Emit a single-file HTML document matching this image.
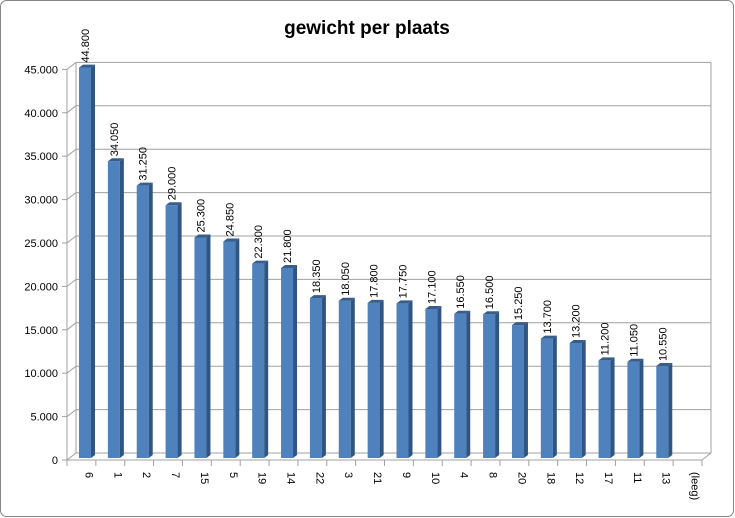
<!DOCTYPE html>
<html><head><meta charset="utf-8"><style>
body{margin:0;background:#fff;}
svg{display:block;font-family:"Liberation Sans",Arial,sans-serif;}
</style></head><body>
<svg id="chart" width="735" height="518" viewBox="0 0 735 518">
<rect x="0.5" y="0.5" width="733" height="516" rx="6" fill="#fff" stroke="#868686"/>
<text x="367" y="34" text-anchor="middle" font-size="19" font-weight="bold" fill="#000">gewicht per plaats</text>
<g id="grid"></g><g id="bars"></g><g id="labels"></g>
</svg>
<script>
const categories=["6","1","2","7","15","5","19","14","22","3","21","9","10","4","8","20","18","12","17","11","13","(leeg)"];
const values=[44800,34050,31250,29000,25300,24850,22300,21800,18350,18050,17800,17750,17100,16550,16500,15250,13700,13200,11200,11050,10550,null];
const valueLabels=["44.800","34.050","31.250","29.000","25.300","24.850","22.300","21.800","18.350","18.050","17.800","17.750","17.100","16.550","16.500","15.250","13.700","13.200","11.200","11.050","10.550",""];
const yTicks=[0,5000,10000,15000,20000,25000,30000,35000,40000,45000];
const yTickLabels=["0","5.000","10.000","15.000","20.000","25.000","30.000","35.000","40.000","45.000"];
const NS="http://www.w3.org/2000/svg";
const X0=67,X1=702,DX=9,DY=7,Y0=460,SC=43.4/5000;
const slot=(X1-X0)/categories.length;
const yFront=v=>Y0-v*SC;
const yBar=v=>458-v*SC*1.004;
function mk(t,a,p){const e=document.createElementNS(NS,t);for(const k in a)e.setAttribute(k,a[k]);p.appendChild(e);return e;}
const grid=document.getElementById('grid'),bars=document.getElementById('bars'),labs=document.getElementById('labels');
// walls
let e=mk('line',{x1:X0+DX,y1:yFront(45000)-DY,x2:X0+DX,y2:Y0-DY,stroke:'#a0a0a0'},grid);

e=mk('line',{x1:X1+DX,y1:yFront(45000)-DY,x2:X1+DX,y2:Y0-DY,stroke:'#a0a0a0'},grid);

e=mk('line',{x1:X0,y1:yFront(45000),x2:X0,y2:Y0,stroke:'#a0a0a0'},grid);

yTicks.forEach((v,i)=>{
  const y=yFront(v);
  const p=mk('polyline',{points:`${X0},${y} ${X0+DX},${y-DY} ${X1+DX},${y-DY}`,fill:'none',stroke:'#a0a0a0'},grid);
  
  const tk=mk('line',{x1:X0-5,y1:y,x2:X0,y2:y,stroke:'#a0a0a0'},grid);
  
  const t=mk('text',{x:X0-9,y:y+4,'text-anchor':'end','font-size':'11',fill:'#000'},labs);
  t.textContent=yTickLabels[i];
  
});
e=mk('polyline',{points:`${X0},${Y0} ${X1},${Y0} ${X1+DX},${Y0-DY}`,fill:'none',stroke:'#a0a0a0'},grid);

for(let i=0;i<=categories.length;i++){
  const x=X0+i*slot;
  const tk=mk('line',{x1:x,y1:Y0,x2:x,y2:Y0+6,stroke:'#a0a0a0'},grid);
  
}
categories.forEach((c,i)=>{
  const cx=X0+(i+0.5)*slot;
  const t=mk('text',{x:0,y:0,'font-size':'11',fill:'#000',transform:`translate(${cx+4},472) rotate(90)`},labs);
  t.textContent=c;
  
  const v=values[i];
  if(v==null)return;
  const l=X0+i*slot+12,w=12,top=yBar(v),bot=458;
  const g=mk('g',{},bars);
  
  mk('rect',{x:l,y:top,width:w,height:bot-top,fill:'#4f81bd'},g);
  mk('polygon',{points:`${l+w},${top} ${l+w+4},${top-3} ${l+w+4},${bot-3} ${l+w},${bot}`,fill:'#2f5583'},g);
  mk('polygon',{points:`${l},${top} ${l+4},${top-3} ${l+w+4},${top-3} ${l+w},${top}`,fill:'#385d8a'},g);
  const vl=mk('text',{x:0,y:0,'font-size':'11',fill:'#000',transform:`translate(${l+w/2+4},${top-5}) rotate(-90)`},labs);
  vl.textContent=valueLabels[i];
  
});
</script>
</body></html>
